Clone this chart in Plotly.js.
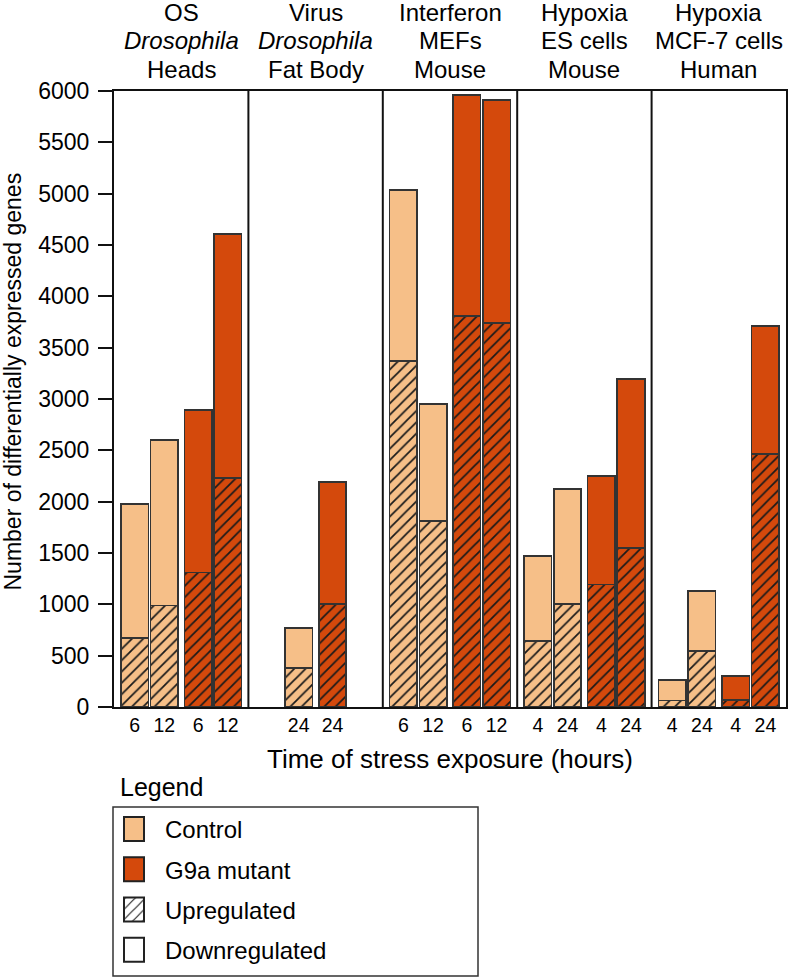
<!DOCTYPE html>
<html>
<head>
<meta charset="utf-8">
<script src="https://cdn.plot.ly/plotly-3.0.1.min.js"></script>
<style>
  html, body { margin: 0; padding: 0; background: #fff; }
  #chart { width: 788px; height: 979px; }
</style>
</head>
<body>
<div id="chart"></div>
<script>
// ---------- data ----------
const panelLine1 = ['OS', 'Virus', 'Interferon', 'Hypoxia', 'Hypoxia'];
const panelLine2 = ['<i>Drosophila</i>', '<i>Drosophila</i>', 'MEFs', 'ES cells', 'MCF-7 cells'];
const panelLine3 = ['Heads', 'Fat Body', 'Mouse', 'Mouse', 'Human'];

const barPanel = [0, 0, 0, 0, 1, 1, 2, 2, 2, 2, 3, 3, 3, 3, 4, 4, 4, 4];
const barGroup = ['Control', 'Control', 'G9a mutant', 'G9a mutant',
                  'Control', 'G9a mutant',
                  'Control', 'Control', 'G9a mutant', 'G9a mutant',
                  'Control', 'Control', 'G9a mutant', 'G9a mutant',
                  'Control', 'Control', 'G9a mutant', 'G9a mutant'];
const barTime = ['6', '12', '6', '12',
                 '24', '24',
                 '6', '12', '6', '12',
                 '4', '24', '4', '24',
                 '4', '24', '4', '24'];
const upregulated = [670, 990, 1310, 2230,
                     378, 1003,
                     3370, 1810, 3810, 3740,
                     642, 1005, 1195, 1550,
                     62, 545, 66, 2462];
const totalGenes = [1980, 2600, 2892, 4608,
                    768, 2191,
                    5038, 2951, 5960, 5910,
                    1471, 2122, 2250, 3196,
                    263, 1130, 302, 3710];

const yTicks = [0, 500, 1000, 1500, 2000, 2500, 3000, 3500, 4000, 4500, 5000, 5500, 6000];

// ---------- layout helpers (derived positions) ----------
const nPanels = panelLine1.length;
const panelUnits = 4;
const slotOffset = [-1.387, -0.503, 0.503, 1.387];
const groups = ['Control', 'G9a mutant'];

const xPos = barPanel.map((p, i) => {
  const g = groups.indexOf(barGroup[i]);
  const same = barPanel.map((q, k) => k).filter(k => barPanel[k] === p && barGroup[k] === barGroup[i]);
  const j = same.indexOf(i);
  const slot = same.length === 2 ? 2 * g + j : 1 + g;
  return p * panelUnits + panelUnits / 2 + slotOffset[slot];
});
const downregulated = totalGenes.map((t, i) => t - upregulated[i]);

const colors = { 'Control': '#F6BF88', 'G9a mutant': '#D4490C' };
const edge = { color: '#333333', width: 1.6 };
const hatch = (bg) => ({ shape: '/', fgcolor: '#1a1a1a', bgcolor: bg, size: 8, solidity: 0.22, fillmode: 'replace' });

const traces = [];
groups.forEach(g => {
  const idx = barGroup.map((b, i) => i).filter(i => barGroup[i] === g);
  traces.push({
    type: 'bar', x: idx.map(i => xPos[i]), y: idx.map(i => upregulated[i]),
    width: 0.82, showlegend: false, hoverinfo: 'y', legendgroup: 'data',
    marker: { color: colors[g], line: edge, pattern: hatch(colors[g]) }
  });
  traces.push({
    type: 'bar', x: idx.map(i => xPos[i]), y: idx.map(i => downregulated[i]),
    width: 0.82, showlegend: false, hoverinfo: 'y', legendgroup: 'data',
    marker: { color: colors[g], line: edge }
  });
});

// legend-only traces
const legendItems = [
  { name: 'Control', marker: { color: colors['Control'], line: { color: '#222', width: 2 } } },
  { name: 'G9a mutant', marker: { color: colors['G9a mutant'], line: { color: '#222', width: 2 } } },
  { name: 'Upregulated', marker: { color: '#ffffff', line: { color: '#222', width: 2 }, pattern: { shape: '/', fgcolor: '#1a1a1a', bgcolor: '#ffffff', size: 9, solidity: 0.15, fillmode: 'replace' } } },
  { name: 'Downregulated', marker: { color: '#ffffff', line: { color: '#222', width: 2 } } }
];
legendItems.forEach((it, k) => {
  traces.push({ type: 'bar', x: [null], y: [null], name: it.name, marker: it.marker,
                legendgroup: 'g' + k, showlegend: true, hoverinfo: 'skip' });
});

// ---------- layout ----------
const plotTop = 91, plotBottom = 707, plotLeft = 114, plotRight = 786;
const ph = plotBottom - plotTop, pw = plotRight - plotLeft;
const py = (pix) => (plotBottom - pix) / ph;
const px = (pix) => (pix - plotLeft) / pw;

const font = 'Liberation Sans, Arial, Helvetica, sans-serif';
const annotations = [];
const lineCenters = [12.5, 41, 70];
for (let p = 0; p < nPanels; p++) {
  [panelLine1[p], panelLine2[p], panelLine3[p]].forEach((t, k) => {
    annotations.push({ text: t, x: p * panelUnits + panelUnits / 2, xref: 'x', y: py(lineCenters[k]), yref: 'paper',
      xanchor: 'center', yanchor: 'middle', showarrow: false, font: { family: font, size: 24, color: '#000' } });
  });
}
annotations.push({ text: 'Legend', x: px(118), xref: 'paper', y: py(787), yref: 'paper',
  xanchor: 'left', yanchor: 'middle', showarrow: false, font: { family: font, size: 25, color: '#000' } });
annotations.push({ text: 'Number of differentially expressed genes', textangle: -90,
  x: px(12.5), xref: 'paper', y: py(382), yref: 'paper', xanchor: 'center', yanchor: 'middle',
  showarrow: false, font: { family: font, size: 23, color: '#000' } });

const shapes = [];
for (let p = 1; p < nPanels; p++) {
  shapes.push({ type: 'line', xref: 'x', yref: 'paper', x0: p * panelUnits, x1: p * panelUnits, y0: 0, y1: 1,
    line: { color: '#111', width: 2 } });
}
shapes.push({ type: 'rect', xref: 'paper', yref: 'paper', x0: px(113), x1: px(478), y0: py(976), y1: py(807),
  line: { color: '#333', width: 1.5 }, fillcolor: 'rgba(0,0,0,0)' });

const layout = {
  width: 788, height: 979,
  margin: { l: plotLeft, r: 788 - plotRight, t: plotTop, b: 979 - plotBottom },
  paper_bgcolor: '#fff', plot_bgcolor: '#fff',
  barmode: 'stack', bargap: 0,
  showlegend: true,
  font: { family: font, color: '#000' },
  xaxis: {
    range: [0, nPanels * panelUnits], showgrid: false, zeroline: false,
    showline: true, mirror: true, linecolor: '#111', linewidth: 2,
    tickmode: 'array', tickvals: xPos, ticktext: barTime, ticks: '',
    tickfont: { family: font, size: 19.5, color: '#000' },
    title: { text: 'Time of stress exposure (hours)', font: { family: font, size: 26, color: '#000' }, standoff: 14 },
    fixedrange: true
  },
  yaxis: {
    range: [0, 6000], showgrid: false, zeroline: false,
    showline: true, mirror: true, linecolor: '#111', linewidth: 2,
    tickmode: 'array', tickvals: yTicks, ticktext: yTicks.map(String),
    ticks: 'outside', ticklen: 14, tickwidth: 2, tickcolor: '#111', ticklabelstandoff: 4,
    tickfont: { family: font, size: 23, color: '#000' },
    fixedrange: true
  },
  legend: {
    x: px(103), y: py(807), xanchor: 'left', yanchor: 'top',
    bgcolor: 'rgba(0,0,0,0)', borderwidth: 0,
    font: { family: font, size: 24, color: '#000' },
    tracegroupgap: 6, itemwidth: 52, traceorder: 'grouped'
  },
  annotations: annotations,
  shapes: shapes
};

function bigSwatches(gd) {
  gd.querySelectorAll('.legend .legendpoints path').forEach(p => {
    p.setAttribute('d', 'M10,12H-10V-12H10Z');
  });
}
const gdEl = document.getElementById('chart');
Plotly.newPlot(gdEl, traces, layout, { displayModeBar: false, staticPlot: true }).then(gd => {
  bigSwatches(gd);
  gd.on && gd.on('plotly_afterplot', () => bigSwatches(gd));
  setTimeout(() => bigSwatches(gd), 50);
  setTimeout(() => bigSwatches(gd), 300);
});
</script>
</body>
</html>
